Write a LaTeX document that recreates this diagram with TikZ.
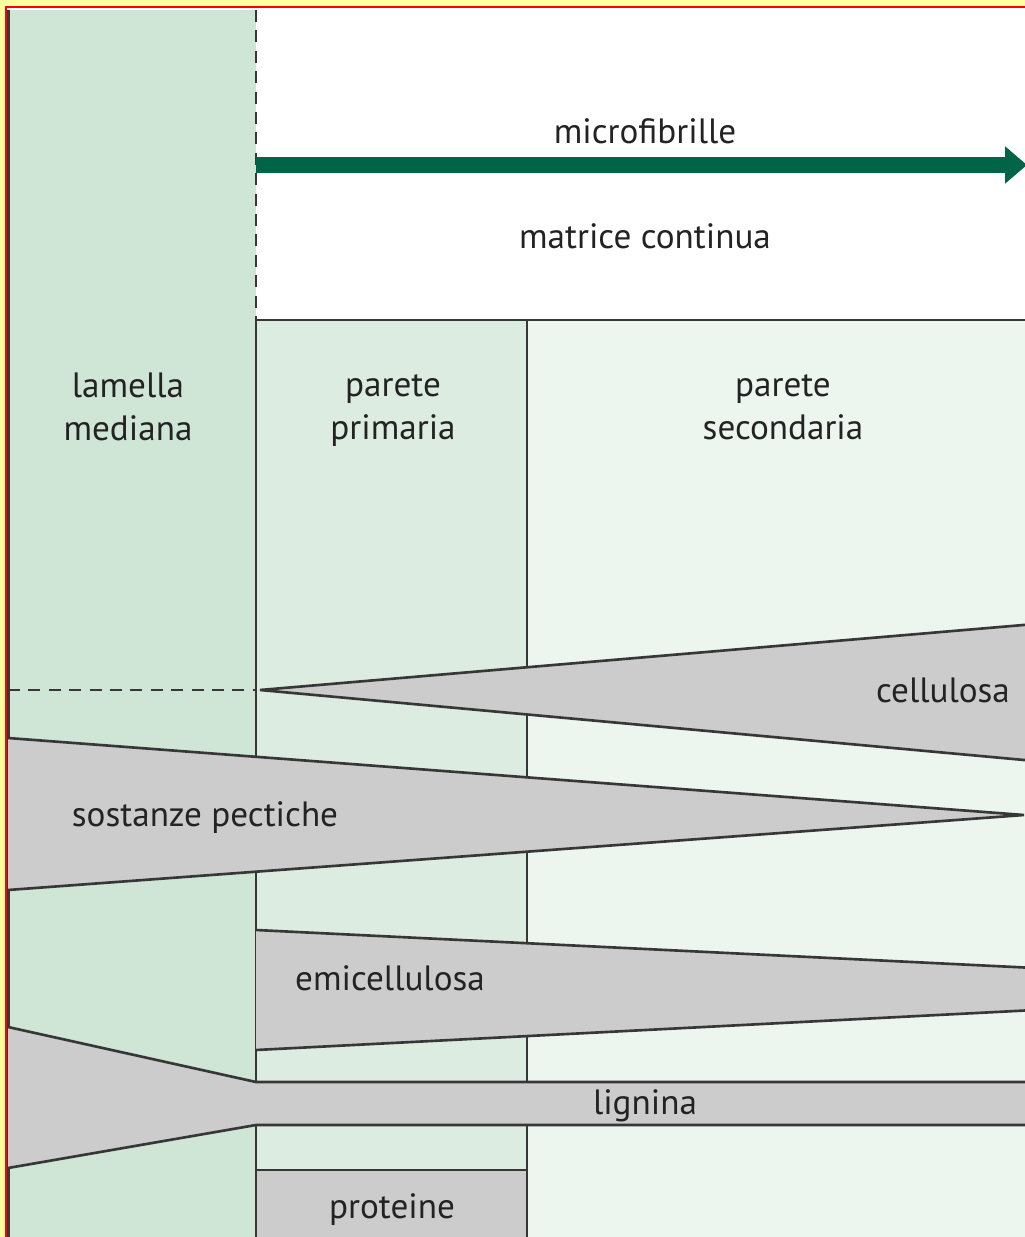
\documentclass[tikz,border=0pt]{standalone}
\usepackage{fontspec}
\setmainfont{PT Sans}
\usetikzlibrary{arrows.meta}
\definecolor{pageyellow}{RGB}{255,255,160}
\definecolor{lamgreen}{RGB}{207,229,213}
\definecolor{primgreen}{RGB}{221,236,225}
\definecolor{secgreen}{RGB}{237,245,239}
\definecolor{wedgegrey}{RGB}{204,204,204}
\definecolor{fibgreen}{RGB}{0,100,70}
\definecolor{edgegrey}{RGB}{55,55,55}
\definecolor{textgrey}{RGB}{35,35,35}

\begin{document}
\begin{tikzpicture}[x=0.01cm,y=-0.01cm,
  edge/.style={draw=edgegrey,line width=0.75pt},
  wedge/.style={fill=wedgegrey},
  txt/.style={font=\fontsize{10}{12.2}\selectfont,align=center,text=textgrey}]
\useasboundingbox (0,0) rectangle (1025,1237);

\fill[pageyellow] (0,0) rectangle (1025,1237);
\fill[white] (6,7) rectangle (1035,1245);
\fill[lamgreen] (8,10) rectangle (256,1245);
\fill[primgreen] (256,320) rectangle (527,1245);
\fill[secgreen] (527,320) rectangle (1035,1245);
\draw[red,line width=0.7pt] (6,1245) -- (6,7) -- (1035,7);
\draw[edge] (8.5,10) -- (8.5,1245);

\draw[edge,dash pattern=on 3.4pt off 2.4pt] (256,10) -- (256,320);
\draw[edge] (1035,320) -- (256,320) -- (256,1245);
\draw[edge] (527,320) -- (527,1245);
\draw[edge,dash pattern=on 3.4pt off 2.4pt] (8,690) -- (256,690);

\coordinate (fibstart) at (256,165);
\coordinate (fibend) at (1027,165);
\draw[fibgreen,line width=4.5pt,-{Triangle[length=0.22cm,width=0.36cm]}] (fibstart) -- (fibend);
\node[txt] (micro) at (645,131) {microfibrille};
\node[txt] (matrice) at (645,236) {matrice continua};

\node[txt] (lamella) at (128,407) {lamella\\mediana};
\node[txt] (primaria) at (393,411) {parete\\primaria};
\node[txt] (secondaria) at (783,407) {parete\\secondaria};

\fill[wedge] (260,690) -- (1035,624) -- (1035,761) -- cycle;
\draw[edge] (1035,624) -- (260,690) -- (1035,761);
\node[txt] (cellulosa) at (943,690) {cellulosa};

\fill[wedge] (8,738) -- (1024,815) -- (8,890) -- cycle;
\draw[edge] (8,738) -- (1024,815) -- (8,890);
\node[txt] (pectiche) at (205,818) {sostanze pectiche};

\fill[wedge] (256,930) -- (1035,968) -- (1035,1010) -- (256,1050) -- cycle;
\draw[edge] (256,930) -- (1035,968);
\draw[edge] (256,1050) -- (1035,1010);
\node[txt] (emicell) at (390,978) {emicellulosa};

\fill[wedge] (8,1027) -- (256,1082) -- (1035,1082) -- (1035,1125) -- (256,1125) -- (8,1168) -- cycle;
\draw[edge] (8,1027) -- (256,1082) -- (1035,1082);
\draw[edge] (8,1168) -- (256,1125) -- (1035,1125);
\node[txt] (lignina) at (645,1106) {lignina};

\filldraw[wedge,edge] (256,1245) -- (256,1170) -- (527,1170) -- (527,1245);
\node[txt] (proteine) at (392,1210) {proteine};
\end{tikzpicture}
\end{document}
